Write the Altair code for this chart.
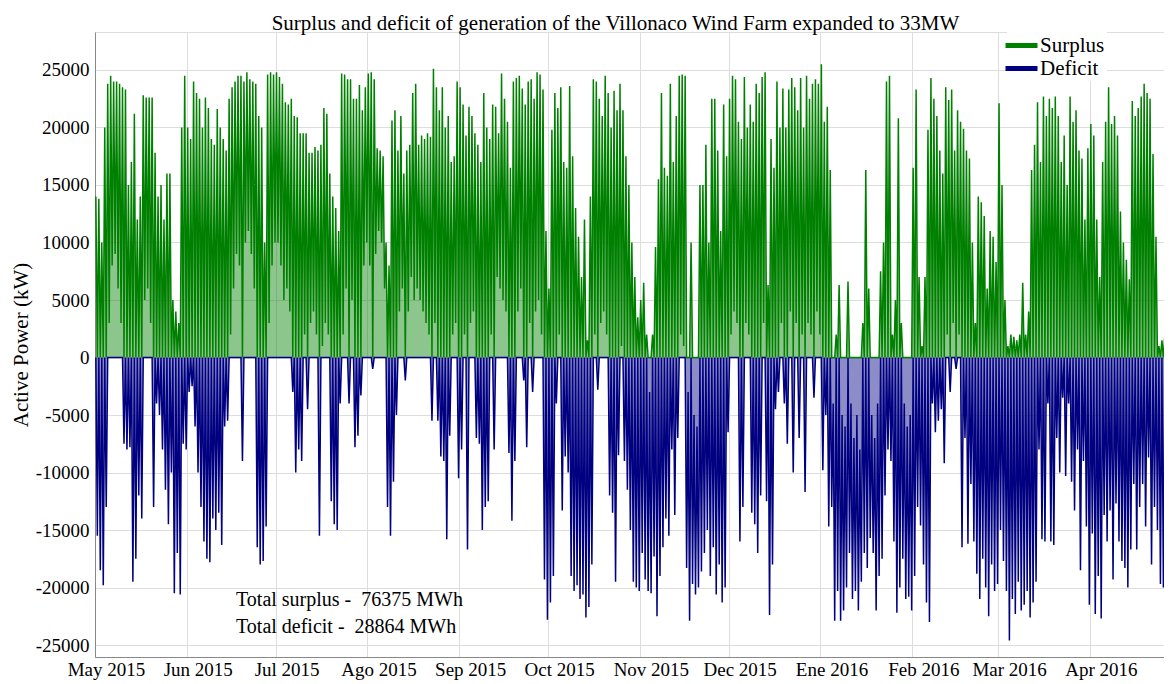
import altair as alt
import pandas as pd

TITLE = "Surplus and deficit of generation of the Villonaco Wind Farm expanded to 33MW"
Y_TITLE = "Active Power (kW)"
tick_labels = ["May 2015", "Jun 2015", "Jul 2015", "Ago 2015", "Sep 2015", "Oct 2015",
               "Nov 2015", "Dec 2015", "Ene 2016", "Feb 2016", "Mar 2016", "Apr 2016"]
y_ticks = [-25000, -20000, -15000, -10000, -5000, 0, 5000, 10000, 15000, 20000, 25000]
notes = ["Total surplus - \u00a076375 MWh", "Total deficit - \u00a028864 MWh"]
series_names = ["Surplus", "Deficit"]
series_colors = ["#008000", "#000080"]

# Daily peak and trough of the net power, in MW
peak_may = [14, 13.8, 10, 20, 23.8, 24.5, 24, 24, 23.8, 23.5, 23.3, 15, 17, 21.2, 12, 14, 22.8, 22.6, 22.6, 22.6, 17.8, 14, 15, 12, 16, 16, 5, 4, 3, 20, 24.5]
trough_may = [-15.5, -18.5, -19.8, -13, 3, 8, 9, 6, 3, -7.5, -8, -7.8, -19.5, -17.5, -12, -14, 5, 6, 3, -13, -4, -5, -8, -11.5, -14.5, -10, -20.5, -17, -20.6, -7.5, -8]
peak_jun = [20, 19, 24, 23, 22.5, 20, 22.6, 21.7, 19, 18.5, 21.6, 20, 19, 18, 22.5, 23.5, 24, 24.5, 24.5, 24, 24.8, 24.2, 24, 23.8, 21, 20, 10, 24.6, 24.8, 24.6]
trough_jun = [-3, -2.5, -6, -10, -13, -16, -17.5, -17.8, -14, -15, -13.5, -16.3, -6, -5.5, 2, 6, 9, 8, -9, 10, 11, 9, 6, -16.5, -18, -17.7, -14.7, 3, 8, 10]
peak_jul = [24.8, 24.4, 23.8, 22.2, 22, 22.5, 21, 20.9, 19.5, 19.5, 19.5, 17.8, 17.8, 18.3, 18, 18.5, 21.7, 21.2, 16, 14, 13, 11, 24.7, 24.6, 24.2, 24.2, 22.5, 22.5, 23.7, 21.5, 23.5]
trough_jul = [10, 8, 5, 6, 4, -3, -10, -8, -9, 2, -4.5, 3, 4, 2, -15.5, 1, 3, 2, -12.5, -14.5, -15, -4, 2, 6, -4, 5, -7.8, -6.8, -3.3, 8, 10]
peak_aug = [24.7, 24.8, 24.2, 18.2, 18, 17.5, 10, 8, 20.6, 21.5, 18, 21, 16, 18, 18.5, 23, 23.8, 18.5, 19.3, 19, 19.5, 19.2, 25.1, 23.5, 21.5, 23.5, 20, 21, 17, 17.5, 24]
trough_aug = [8, -1, 9, 11, 10, 6, -13, -15.5, -10.8, -5, 4, 6, -2, 4, 7, 5, 6, 5, 4, 3, 2, -5.5, 3, -5.5, -8.6, -9, -15.8, -6.8, 2, 3, -10.5]
peak_sep = [23.5, 22, 19.3, 21.8, 21, 19.5, 18.5, 17, 23, 20, 19, 22, 21.8, 19.5, 24.7, 22.5, 20.5, 16.5, 24, 24.3, 24.5, 23.4, 22, 24, 24.2, 22.5, 24.8, 24.6, 23.3, 11]
trough_sep = [-8, 2, -16.7, 3, 4, -7, -7.5, -15, -13, -12.5, 2, -8, 7, 6, 5, 4, -8.3, -14.2, -9, 4, 6, -2, -7.8, 3, -3, 4, 5, 2, -19.3, -22.8]
peak_oct = [6, 19.8, 23, 21.7, 23.5, 17, 16.5, 23.6, 17.5, 13, 10.5, 7, 12, 1.5, 14, 24.2, 24, 22.5, 21, 24.5, 23, 20, 23.2, 21.5, 23.8, 21.5, 17.5, 15, 10, 7, 3.5]
trough_oct = [-21.3, -19, -4, 2, -13.3, -8.6, -10, -19, -20.3, -19.8, -21, -20.6, -22.6, -21.7, -18, 2, -2.8, 3, 4, 2, -12, -13.5, -19.5, -8.5, 1, -9, -11.5, -15, -19.5, -20, -20.3]
peak_nov = [5, 6.5, 2, -3, 2, 9.6, 15.5, 23, 16.5, 15.8, 23.8, 17, 21, 24.5, 24.6, 24.5, -3, 10, -5, -6, 15, 15, 18.5, 10, 22.5, 22.5, 18, 11, 22, 17.5]
trough_nov = [-17, -19.3, -20.3, -20.5, -17.3, -22.5, -19, -16.5, -14, -15.5, -8, -13.7, -7, 2, 1, -18.3, -22.9, -19.7, -20.6, -20, -18.6, -17, -15, -19, -16.5, -20.6, -18, -21.3, -20, -6.5]
peak_dec = [22.5, 24.5, 24.2, 20.5, 19, 24.4, 20, 22, 20.5, 23.8, 23, 24.4, 24.8, 6.3, 19, 16.5, 24, 20, 23.4, 20, 23.3, 24.3, 23.5, 21.5, 24.3, 20, 24.5, 22.5, 23.8, 24.2, 23.8]
trough_dec = [2, 4, 3, -16, -13, 3, 2, -13.5, -14.5, -17, -12, 3, -12.5, -22.4, -18, -4.5, -3, 3, -4, -7.5, 4, -10, 3, -7, 2, -11.7, 3, 2, -3.5, 4, 2]
peak_jan = [25.5, 20.5, 21.8, 16.3, -4, 2, 6.3, -5, -6, 6.6, -4, -7, -5, -8, 3, 16.3, 6, -5, -7, -4, 7.5, 10, 24, 24.5, 2, 5, 20.8, 3, -4, -6, -5]
trough_jan = [-9.8, -5, -14.7, -13, -22.9, -20.3, -22.9, -22, -20, -17, -21, -20.3, -22, -19.5, -17, -18.3, -15.7, -17, -22, -19, -17.5, -12, -8, -9, -16, -22.2, -20, -17.5, -21, -20.8, -22]
peak_feb = [16.5, 23.3, 7, 1, 7, 19.8, 24.3, 22.5, 21, 18, 16, 23.5, 22.4, 23.3, 18, 21.5, 20.5, 19.9, 18, 17.3, 10, 3, 14, 13.5, 12.3, 6, 11, 10.5, 8.3]
trough_feb = [-19, -13, -14.6, -18, -21.3, -23, -4, -6.5, -5.5, -4.5, -9.2, 2, -3, 3, -1, 2, -16.5, -7, -16.2, -11, -16, -18.8, -21, -17.5, -20, -22.5, -18, -20.3, -19.7]
peak_mar = [22.1, 15, 5, 1, 2, 1.8, 1.5, 2, 6.5, 2, 4, 16.3, 18.5, 22.2, 17, 22.7, 21, 22.5, 21.7, 22.7, 21, 17, 19.3, 15, 22.7, 20.5, 21.5, 18, 17.3, 12, 18.2]
trough_mar = [-15, -17.7, -20.3, -24.6, -21, -22.3, -19.5, -22, -21.5, -20.3, -22.6, -21.3, -19.5, -8, -15.8, -16, -4, -16, -16.3, -7, -10, -3.5, -10.3, -4, -10.8, -13.3, -8, -18.5, -9, -14.7, -21.5]
peak_apr = [20.3, 19.3, 12, 7, 17, 20.5, 23.5, 20.3, 21, 19.3, 12.7, 10, 8.5, 6.8, 22.3, 21, 21.7, 22.7, 23.8, 23, 22.5, 17.7, 10.5, 1, 1.5, 2, 1.5, 8, 9]
trough_apr = [-15.3, -22.3, -19, -22.7, -13.7, -16, -13.3, -19.3, -12.7, -16, -17.7, -18.3, -20, -16.7, -11, -16.7, -13, -11, -14.7, -8.7, -18, -13, -15, -19.7, -20, -22, -21.7, -22.7, -16]

months = [
    ("2015-05-01", peak_may, trough_may), ("2015-06-01", peak_jun, trough_jun),
    ("2015-07-01", peak_jul, trough_jul), ("2015-08-01", peak_aug, trough_aug),
    ("2015-09-01", peak_sep, trough_sep), ("2015-10-01", peak_oct, trough_oct),
    ("2015-11-01", peak_nov, trough_nov), ("2015-12-01", peak_dec, trough_dec),
    ("2016-01-01", peak_jan, trough_jan), ("2016-02-01", peak_feb, trough_feb),
    ("2016-03-01", peak_mar, trough_mar), ("2016-04-01", peak_apr, trough_apr),
]

rows = []
for m_start, peaks, troughs in months:
    base_day = pd.Timestamp(m_start, tz="UTC")
    for i, (p, t) in enumerate(zip(peaks, troughs)):
        for hours, v in ((7, p), (19, t)):
            ts = base_day + pd.Timedelta(days=i, hours=hours)
            kw = v * 1000.0
            rows.append({"t": int(ts.value // 10**6),
                         "Surplus": max(kw, 0.0),
                         "Deficit": min(kw, 0.0)})
df = pd.DataFrame(rows)

def ms(s):
    return int(pd.Timestamp(s, tz="UTC").value // 10**6)

tick_dates = [ms(m[0]) for m in months]
x_domain = [ms("2015-05-01"), ms("2016-04-26")]
y_domain = [-26043, 28304]

FONT = "Liberation Serif"
label_list = "[" + ",".join("'" + s + "'" for s in tick_labels) + "]"
x_axis = alt.Axis(values=tick_dates, title=None, grid=True, ticks=False, tickSize=0,
                  labelExpr=label_list + "[(utcyear(datum.value)-2015)*12+utcmonth(datum.value)-4]",
                  labelOffset=11, labelFlush=False, labelOverlap=False, labelPadding=3,
                  labelFontSize=19, labelFont=FONT, labelColor="black")
y_axis = alt.Axis(values=y_ticks, title=Y_TITLE, grid=True, ticks=False, tickSize=0,
                  labelExpr="datum.value + ''", labelPadding=6, labelFontSize=19,
                  labelFont=FONT, labelColor="black", titleFont=FONT, titleFontSize=21,
                  titleFontWeight="normal", titleColor="black", titlePadding=4)

x_enc = alt.X("t:T", scale=alt.Scale(type="utc", domain=x_domain), axis=x_axis)
yscale = alt.Scale(domain=y_domain, nice=False, zero=False)

base = alt.Chart(df)
area_s = base.mark_area(color=series_colors[0], opacity=0.45, clip=True).encode(
    x=x_enc, y=alt.Y("Surplus:Q", scale=yscale, axis=y_axis))
area_d = base.mark_area(color=series_colors[1], opacity=0.45, clip=True).encode(
    x=x_enc, y=alt.Y("Deficit:Q", scale=yscale, axis=y_axis))
lines = base.transform_fold(series_names, as_=["series", "val"]).mark_line(
    strokeWidth=1.5, clip=True).encode(
    x=x_enc,
    y=alt.Y("val:Q", scale=yscale, axis=y_axis),
    color=alt.Color("series:N",
                    scale=alt.Scale(domain=series_names, range=series_colors),
                    sort=series_names,
                    legend=alt.Legend(title=None, orient="none", legendX=912, legendY=-1,
                                      direction="vertical", fillColor="white", padding=2,
                                      symbolType="M-1.6,0L1.6,0", symbolSize=400,
                                      symbolStrokeWidth=5,
                                      labelFont=FONT, labelFontSize=21, labelColor="black",
                                      labelOffset=6, rowPadding=0)),
)

note_df = pd.DataFrame({"note": notes, "row": [0, 1]})
text1 = alt.Chart(note_df).transform_filter("datum.row == 0").mark_text(
    align="left", baseline="middle", font=FONT, fontSize=20, color="black").encode(
    text="note:N", x=alt.value(141), y=alt.value(568))
text2 = alt.Chart(note_df).transform_filter("datum.row == 1").mark_text(
    align="left", baseline="middle", font=FONT, fontSize=20, color="black").encode(
    text="note:N", x=alt.value(141), y=alt.value(595))

chart = alt.layer(area_s, area_d, lines, text1, text2).properties(
    width=1069, height=625,
    autosize=alt.AutoSizeParams(type="none"),
    padding={"left": 87, "top": 24, "right": 0, "bottom": 27},
    title=alt.TitleParams(TITLE, font=FONT, fontSize=21, fontWeight="normal",
                          color="black", anchor="middle", dx=-14, dy=9, offset=6),
).configure_view(stroke=None).configure_axis(
    gridColor="#cccccc", gridWidth=1, domainColor="#888888", domainWidth=1,
    labelFont=FONT, titleFont=FONT
).configure_legend(labelFont=FONT).configure(background="white")

chart.save("out.html", embed_options={"renderer": "svg", "actions": False})
